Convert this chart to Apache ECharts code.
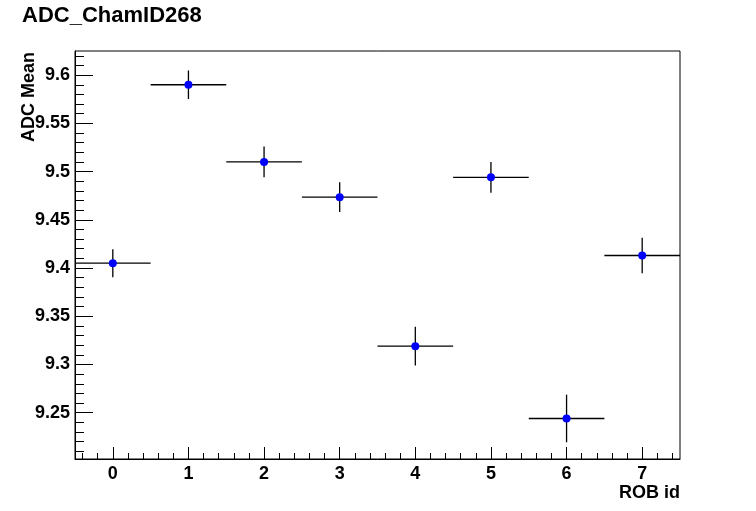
<!DOCTYPE html>
<html>
<head>
<meta charset="utf-8">
<script src="https://cdn.jsdelivr.net/npm/echarts@6/dist/echarts.min.js"></script>
<style>html,body{margin:0;padding:0;background:#fff}#c{width:756px;height:511px}</style>
</head>
<body>
<div id="c"></div>
<script>
var robIds = [0, 1, 2, 3, 4, 5, 6, 7];
var adcMean = [9.405, 9.590, 9.510, 9.4735, 9.319, 9.494, 9.244, 9.413];
var adcErr = [0.0145, 0.0148, 0.016, 0.0153, 0.020, 0.016, 0.0247, 0.0185];
var xErr = [0.5, 0.5, 0.5, 0.5, 0.5, 0.5, 0.5, 0.5];
var yMajorTicks = [9.25, 9.3, 9.35, 9.4, 9.45, 9.5, 9.55, 9.6];
var xMajorTicks = [0, 1, 2, 3, 4, 5, 6, 7];

var yMinorTicks = [];
for (var i = 921; i <= 962; i++) yMinorTicks.push(i / 100);
var xMinorTicks = [];
for (var j = -2; j <= 37; j++) xMinorTicks.push(j / 5);

var FONT = '"Liberation Sans", Arial, Helvetica, sans-serif';
var data = robIds.map(function (x, k) { return [x, adcMean[k], xErr[k], adcErr[k]]; });

var chart = echarts.init(document.getElementById('c'));
chart.setOption({
  animation: false,
  backgroundColor: '#fff',
  grid: { left: 75, right: 76, top: 51, bottom: 52, show: true, borderColor: '#000', borderWidth: 1, backgroundColor: 'transparent' },
  xAxis: [
    { type: 'value', min: -0.5, max: 7.5, position: 'bottom',
      axisLine: { show: true, onZero: false, lineStyle: { color: '#000', width: 1 } },
      splitLine: { show: false },
      axisTick: { show: true, inside: true, length: 12, lineStyle: { color: '#000' }, customValues: xMajorTicks },
      axisLabel: { show: true, customValues: xMajorTicks, color: '#000', fontFamily: FONT, fontWeight: 'bold', fontSize: 18, margin: 6 } },
    { type: 'value', min: -0.5, max: 7.5, position: 'bottom',
      axisLine: { show: false, onZero: false }, splitLine: { show: false },
      axisTick: { show: true, inside: true, length: 6, lineStyle: { color: '#000' }, customValues: xMinorTicks },
      axisLabel: { show: false } }
  ],
  yAxis: [
    { type: 'value', min: 9.202, max: 9.625, position: 'left',
      axisLine: { show: true, onZero: false, lineStyle: { color: '#000', width: 1 } },
      splitLine: { show: false },
      axisTick: { show: true, inside: true, length: 18, lineStyle: { color: '#000' }, customValues: yMajorTicks },
      axisLabel: { show: true, customValues: yMajorTicks, color: '#000', fontFamily: FONT, fontWeight: 'bold', fontSize: 18, margin: 5,
        formatter: function (v) { return String(Math.round(v * 100) / 100); } } },
    { type: 'value', min: 9.202, max: 9.625, position: 'left',
      axisLine: { show: false, onZero: false }, splitLine: { show: false },
      axisTick: { show: true, inside: true, length: 9, lineStyle: { color: '#000' }, customValues: yMinorTicks },
      axisLabel: { show: false } }
  ],
  graphic: [
    { type: 'text', left: 22, top: 5, style: { text: 'ADC_ChamID268', fill: '#000', font: 'bold 22px ' + FONT } },
    { type: 'text', x: 29, y: 97, rotation: Math.PI / 2, style: { text: 'ADC Mean', fill: '#000', font: 'bold 18px ' + FONT, align: 'center', verticalAlign: 'middle' } },
    { type: 'text', x: 680, y: 493, style: { text: 'ROB id', fill: '#000', font: 'bold 18px ' + FONT, align: 'right', verticalAlign: 'middle' } }
  ],
  series: [
    { type: 'custom', xAxisIndex: 0, yAxisIndex: 0, data: data, z: 2,
      renderItem: function (params, api) {
        var x = api.value(0), y = api.value(1), ex = api.value(2), ey = api.value(3);
        var l = api.coord([x - ex, y]), r = api.coord([x + ex, y]);
        var t = api.coord([x, y + ey]), b = api.coord([x, y - ey]);
        var st = { stroke: '#000', lineWidth: 1.3 };
        return { type: 'group', children: [
          { type: 'line', shape: { x1: l[0], y1: l[1], x2: r[0], y2: r[1] }, style: st },
          { type: 'line', shape: { x1: t[0], y1: t[1], x2: b[0], y2: b[1] }, style: st }
        ] };
      } },
    { type: 'scatter', xAxisIndex: 0, yAxisIndex: 0, z: 3, symbol: 'circle', symbolSize: 8,
      itemStyle: { color: '#0000ff', opacity: 1 },
      data: robIds.map(function (x, k) { return [x, adcMean[k]]; }) }
  ]
});
</script>
</body>
</html>
